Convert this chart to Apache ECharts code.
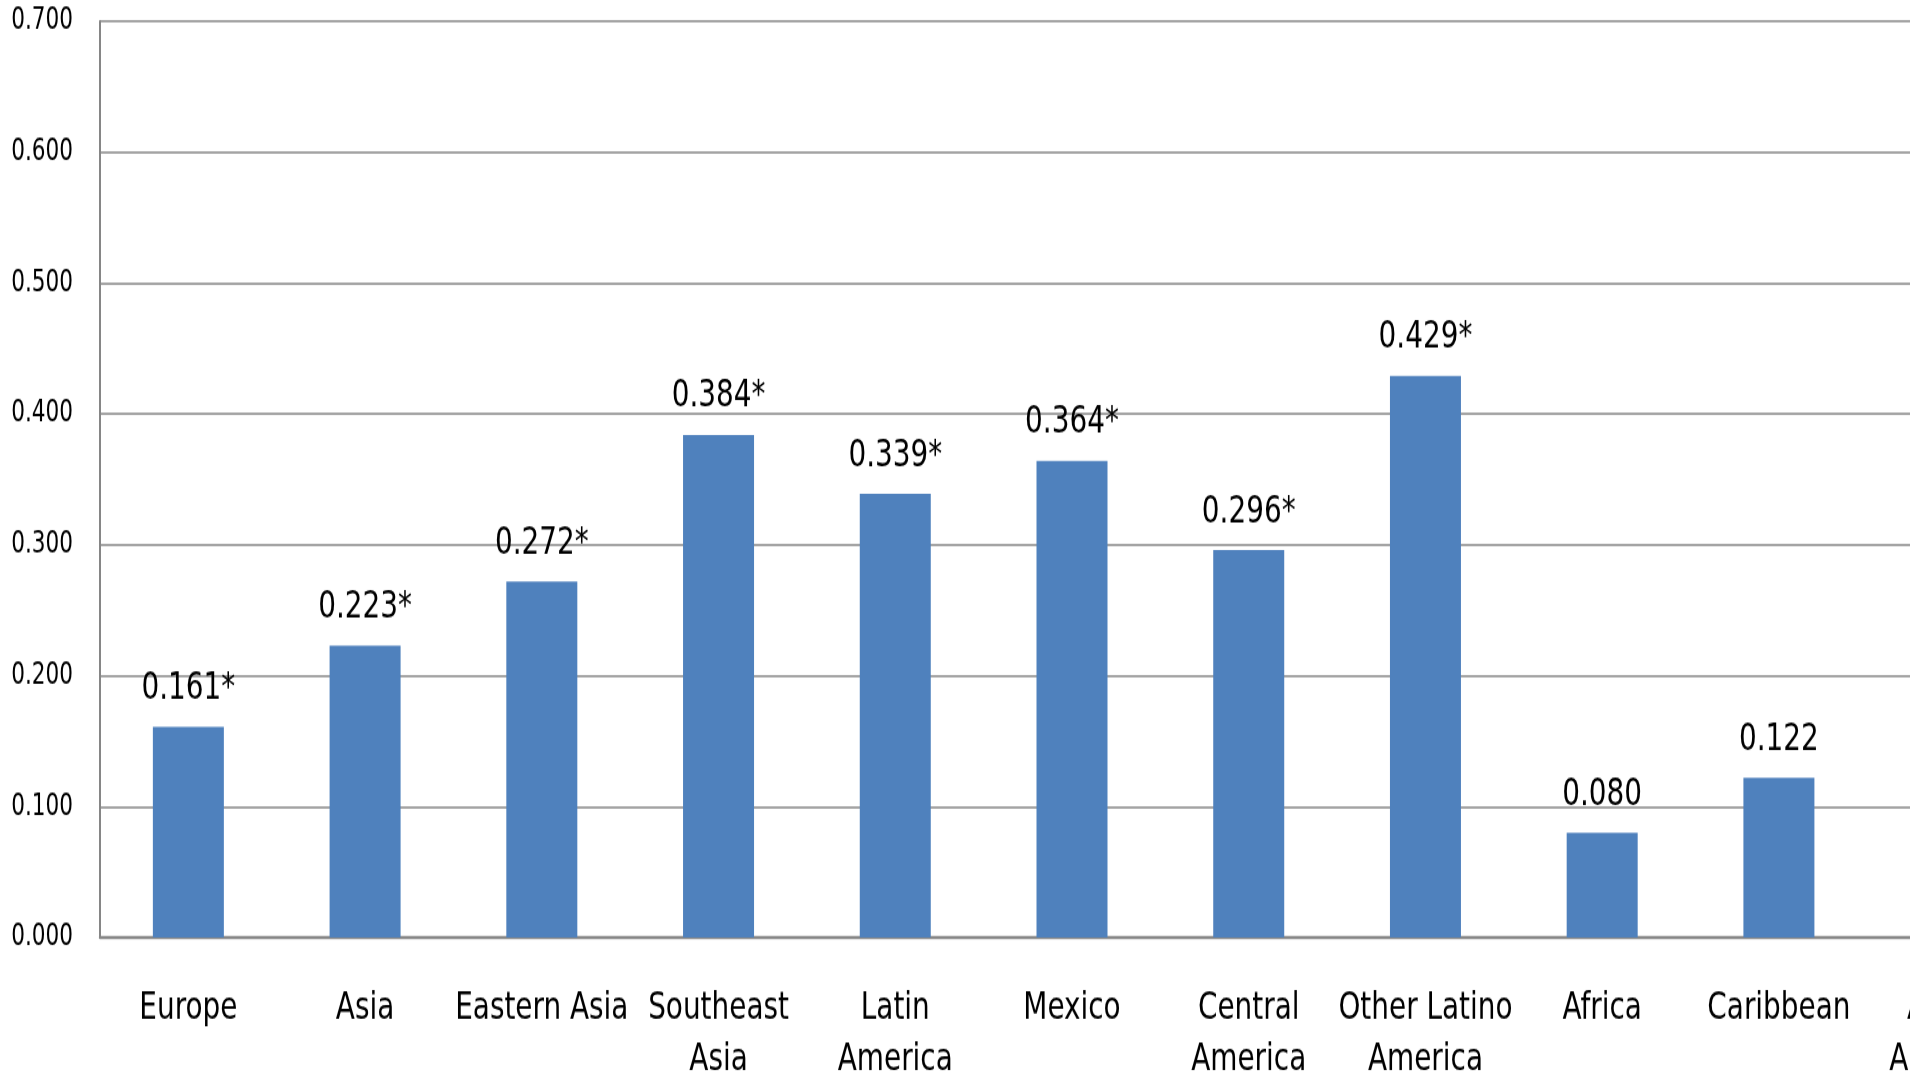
<!DOCTYPE html>
<html>
<head>
<meta charset="utf-8">
<script src="https://cdn.jsdelivr.net/npm/echarts@6/dist/echarts.min.js"></script>
<style>
  html, body { margin: 0; padding: 0; background: #ffffff; overflow: hidden; }
  #frame { width: 1910px; height: 1076px; overflow: hidden; background: #ffffff; }
  /* the chart is drawn at a reduced height and stretched vertically for tall, narrow type */
  #chart { width: 2100px; height: 861px; transform: scaleY(1.25); transform-origin: 0 0; }
</style>
</head>
<body>
<div id="frame"><div id="chart"></div></div>
<script>
// Regions and their coefficients
const categories = ['Europe', 'Asia', 'Eastern Asia', 'Southeast\nAsia', 'Latin\nAmerica', 'Mexico',
  'Central\nAmerica', 'Other Latino\nAmerica', 'Africa', 'Caribbean', 'African\nAmerican'];
const values = [0.161, 0.223, 0.272, 0.384, 0.339, 0.364, 0.296, 0.429, 0.080, 0.122, 0.618];
// Statistically significant estimates get an asterisk
const significant = [true, true, true, true, true, true, true, true, false, false, true];
const yTicks = [0, 0.1, 0.2, 0.3, 0.4, 0.5, 0.6, 0.7];

const FONT = "'DejaVu Sans Condensed', 'DejaVu Sans', sans-serif";

const chart = echarts.init(document.getElementById('chart'), null, { renderer: 'canvas' });

chart.setOption({
  animation: false,
  backgroundColor: '#ffffff',
  grid: { left: 100, right: 56, top: 17, bottom: 111, show: false, containLabel: false, outerBoundsMode: 'none' },
  xAxis: {
    type: 'category',
    data: categories,
    axisLine: { show: true, lineStyle: { color: '#868686', width: 2.4 } },
    axisTick: { show: false },
    axisLabel: {
      interval: 0,
      margin: 36,
      color: '#000000',
      fontFamily: FONT,
      fontSize: 31,
      lineHeight: 41
    }
  },
  yAxis: {
    type: 'value',
    min: yTicks[0],
    max: yTicks[yTicks.length - 1],
    interval: 0.1,
    axisLine: { show: true, lineStyle: { color: '#868686', width: 2 } },
    axisTick: { show: false },
    splitLine: { show: true, lineStyle: { color: '#868686', width: 1.6 } },
    axisLabel: {
      margin: 27,
      color: '#000000',
      fontFamily: FONT,
      fontSize: 24,
      formatter: v => v.toFixed(3)
    }
  },
  series: [{
    type: 'bar',
    data: values,
    barWidth: 71,
    itemStyle: { color: '#4F81BD' },
    label: {
      show: true,
      position: 'top',
      distance: 15,
      color: '#000000',
      fontFamily: FONT,
      fontSize: 31,
      lineHeight: 31,
      formatter: p => p.value.toFixed(3) + (significant[p.dataIndex] ? '*' : '')
    }
  }]
});
</script>
</body>
</html>
